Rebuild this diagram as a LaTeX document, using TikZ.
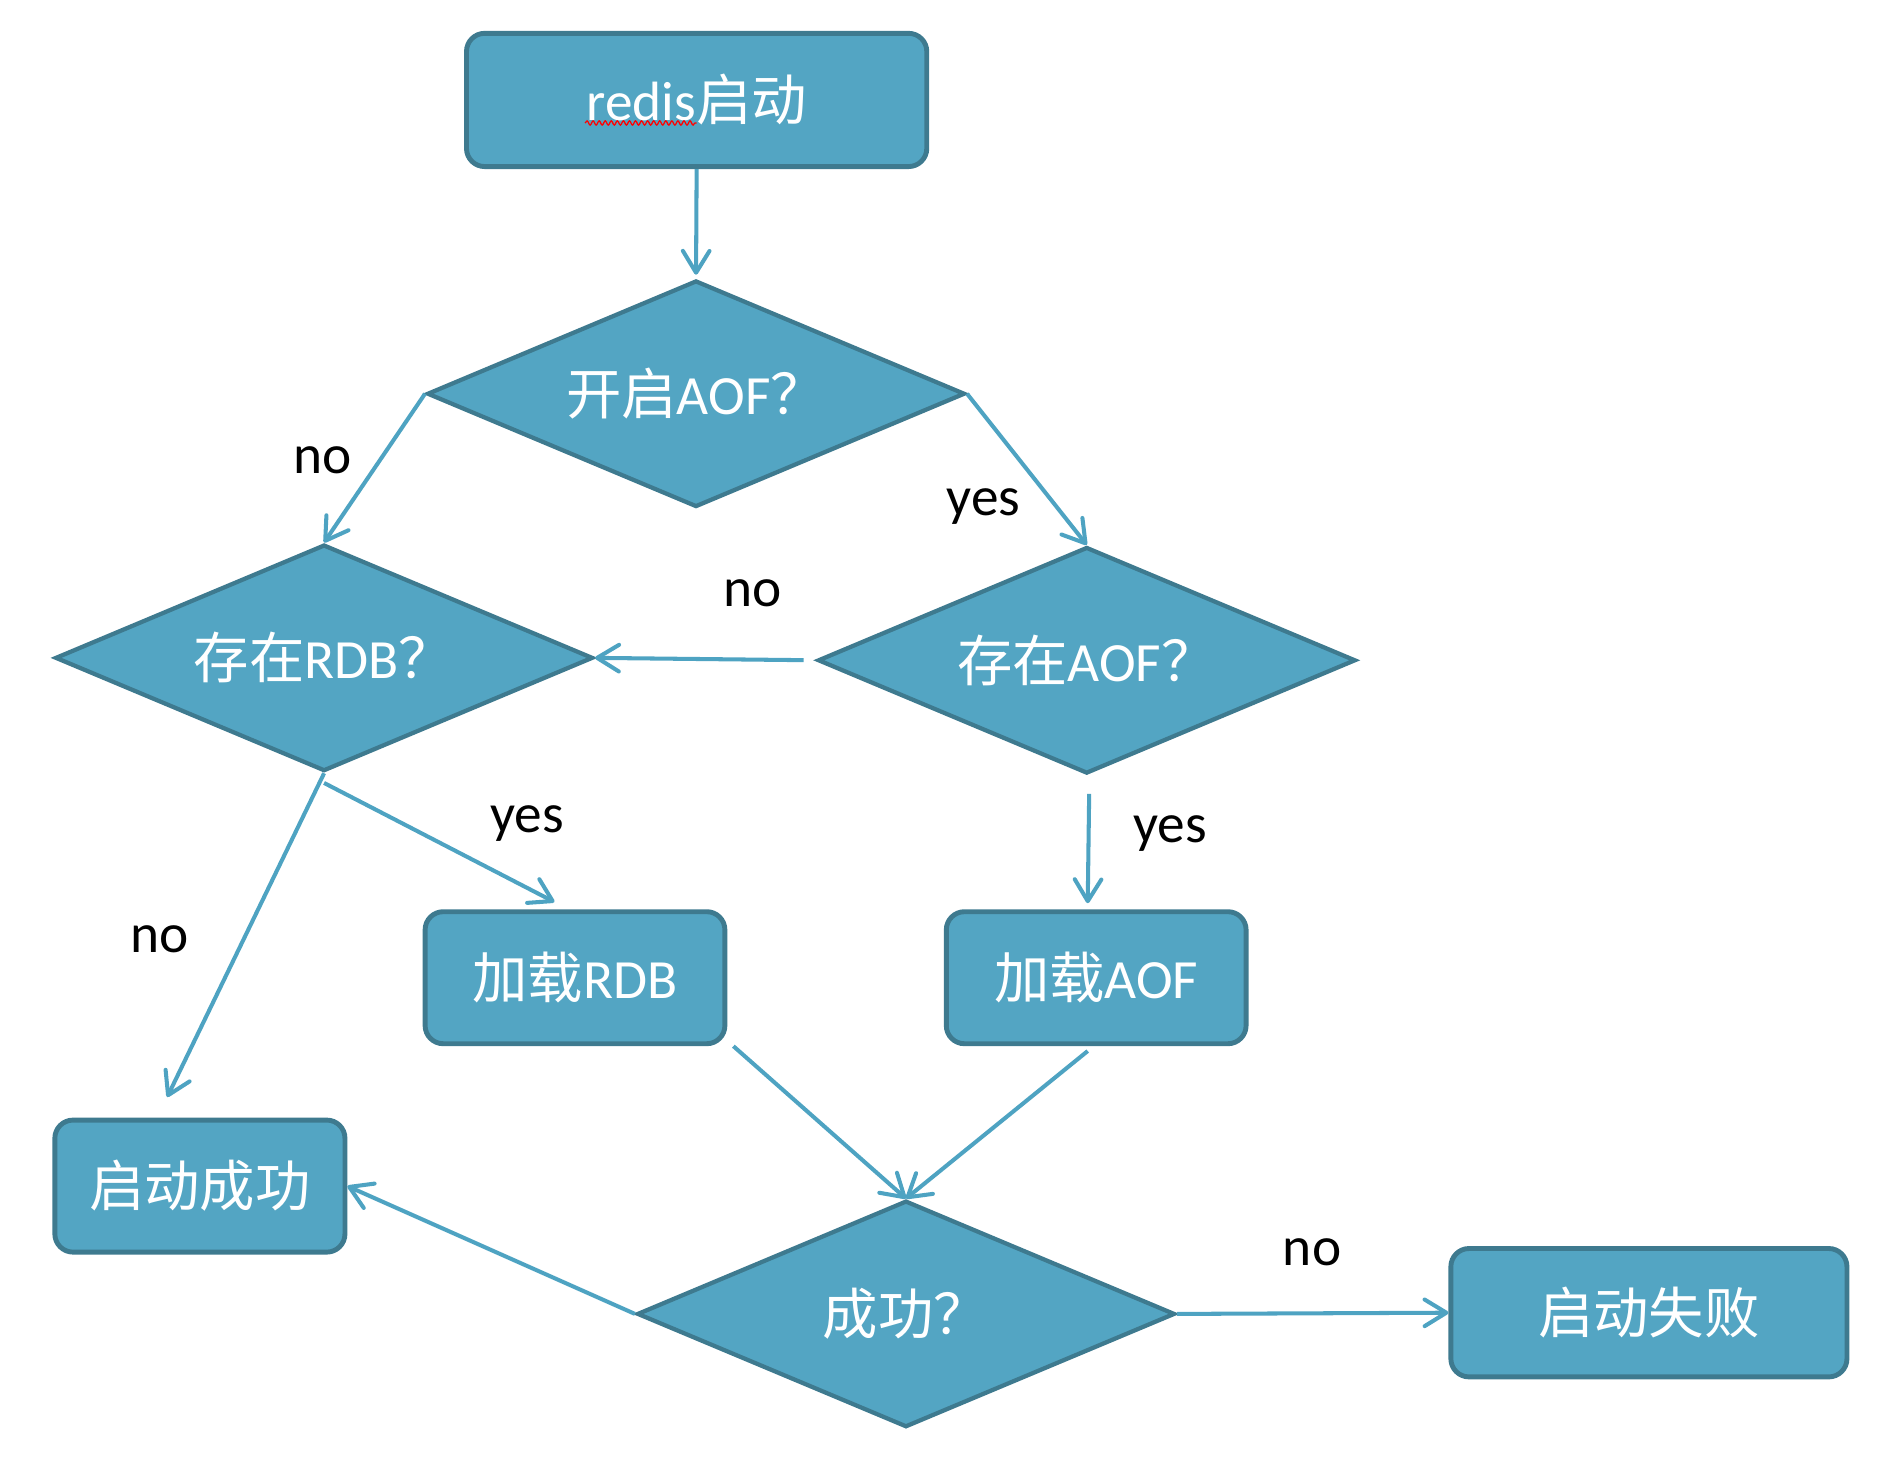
\documentclass[tikz,border=0pt]{standalone}
\usepackage{fontspec}
\setmainfont{Carlito}
\newfontfamily\cjk{Noto Sans CJK SC}
\usetikzlibrary{arrows.meta,positioning,shapes.geometric,calc,decorations.pathmorphing}
\definecolor{flowfill}{HTML}{53A5C3}
\definecolor{flowline}{HTML}{3E7A8F}
\definecolor{flowarrow}{HTML}{4EA3C2}

\begin{document}
\begin{tikzpicture}[
  x=0.02cm, y=-0.02cm,
  box/.style={rectangle, draw=flowline, fill=flowfill, line width=2.3pt, rounded corners=0.3cm, text=white, inner sep=0pt, minimum height=2.18cm, font=\fontsize{26}{30}\selectfont},
  query/.style={diamond, draw=flowline, fill=flowfill, line width=2pt, text=white, inner sep=0pt, aspect=2.4, minimum width=8.88cm, minimum height=3.74cm, font=\fontsize{26}{30}\selectfont},
  lbl/.style={text=black, inner sep=0pt, font=\fontsize{26}{30}\selectfont},
  every edge/.style={draw=flowarrow, line width=1.9pt, -{Straight Barb[length=3.6mm, width=4.4mm, round]}}
]
\useasboundingbox (0,0) rectangle (1560,1207);

% Start and first question
\node[box, minimum width=7.6cm, minimum height=2.2cm] (START) at (575,82.5) {redis{\cjk 启动}};
\draw[red, line width=0.6pt, decorate, decoration={snake, amplitude=0.035cm, segment length=0.1cm}]
  ($(START.center)+(-92,19)$) -- ($(START.center)+(0,19)$);
\node[query] (AOF_ON) at (574.5,325) {{\cjk 开启}AOF{\cjk ？}};

% Second level: which file exists
\node[query] (RDB_EXIST) at (267.5,543) {{\cjk 存在}RDB{\cjk ？}};
\node[query] (AOF_EXIST) at (897,545) {{\cjk 存在}AOF{\cjk ？}};

% Loading
\node[box, minimum width=4.95cm] (LOAD_RDB) at (474.6,807) {{\cjk 加载}RDB};
\node[box, minimum width=4.95cm] (LOAD_AOF) at (904.8,807) {{\cjk 加载}AOF};

% Result
\node[box, minimum width=4.79cm] (OK) at (165,979) {\cjk 启动成功};
\node[query] (CHECK) at (747.8,1084.5) {{\cjk 成功？}};
\node[box, minimum width=6.54cm, minimum height=2.12cm] (FAIL) at (1361,1083.5) {\cjk 启动失败};

% Edges
\path (START.south) edge[shorten >=0.06cm] (AOF_ON.north);
\path (AOF_ON.west) edge (RDB_EXIST.north);
\path (AOF_ON.east) edge (AOF_EXIST.north);
\path (AOF_EXIST.west) edge[shorten <=0.2cm] (RDB_EXIST.east);
\path ($(AOF_EXIST.south)+(2,15)$) edge ($(LOAD_AOF.north)+(-7,-5)$);
\path (RDB_EXIST.south) edge ($(OK.north)+(-27,-17)$);
\path ($(RDB_EXIST.south)+(0,8)$) edge ($(LOAD_RDB.north)+(-17,-6)$);
\path ($(LOAD_RDB.south east)+(5,0)$) edge (CHECK.north);
\path ($(LOAD_AOF.south)+(-7,4)$) edge (CHECK.north);
\path (CHECK.west) edge (OK.east);
\path (CHECK.east) edge (FAIL.west);

% Edge labels
\node[lbl] (L_NO1) at (266,380) {no};
\node[lbl] (L_YES1) at (812,418) {yes};
\node[lbl] (L_NO2) at (621,490) {no};
\node[lbl] (L_YES2) at (966,688) {yes};
\node[lbl] (L_NO3) at (132,775) {no};
\node[lbl] (L_YES3) at (435,680) {yes};
\node[lbl] (L_NO4) at (1083,1034) {no};

\end{tikzpicture}
\end{document}
